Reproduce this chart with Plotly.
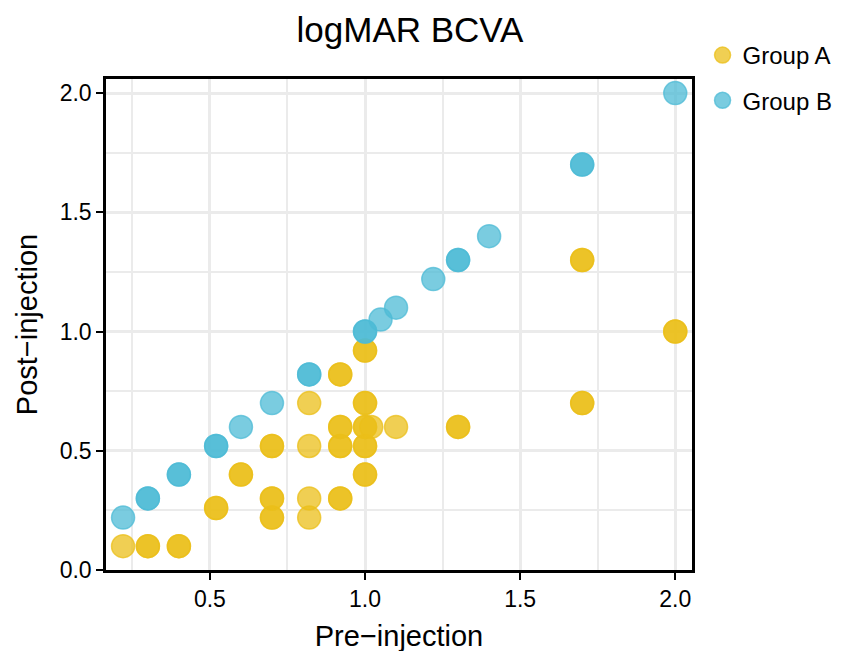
import plotly.graph_objects as go

# Group A (yellow): pre / post injection logMAR BCVA
a_pre = [0.22, 0.30, 0.30, 0.40, 0.40, 0.52, 0.52, 0.60, 0.60,
         0.70, 0.70, 0.70, 0.70, 0.70, 0.70,
         0.82, 0.82, 0.82, 0.82,
         0.92, 0.92, 0.92, 0.92, 0.92, 0.92, 0.92, 0.92,
         1.00, 1.00, 1.00, 1.00, 1.00, 1.00, 1.00, 1.00, 1.00, 1.00,
         1.02, 1.10, 1.30, 1.30, 1.70, 1.70, 1.70, 1.70, 2.00, 2.00]
a_post = [0.10, 0.10, 0.10, 0.10, 0.10, 0.26, 0.26, 0.40, 0.40,
          0.22, 0.22, 0.30, 0.30, 0.52, 0.52,
          0.22, 0.30, 0.52, 0.70,
          0.30, 0.30, 0.52, 0.52, 0.60, 0.60, 0.82, 0.82,
          0.40, 0.40, 0.52, 0.52, 0.60, 0.60, 0.70, 0.70, 0.92, 0.92,
          0.60, 0.60, 0.60, 0.60, 0.70, 0.70, 1.30, 1.30, 1.00, 1.00]

# Group B (blue)
b_pre = [0.22, 0.30, 0.30, 0.40, 0.40, 0.52, 0.52, 0.60, 0.70,
         0.82, 0.82, 1.00, 1.00, 1.05, 1.10, 1.22, 1.30, 1.30,
         1.40, 1.70, 1.70, 2.00]
b_post = [0.22, 0.30, 0.30, 0.40, 0.40, 0.52, 0.52, 0.60, 0.70,
          0.82, 0.82, 1.00, 1.00, 1.05, 1.10, 1.22, 1.30, 1.30,
          1.40, 1.70, 1.70, 2.00]

x_ticks = [0.5, 1.0, 1.5, 2.0]
y_ticks = [0.0, 0.5, 1.0, 1.5, 2.0]
x_tick_labels = ["0.5", "1.0", "1.5", "2.0"]
y_tick_labels = ["0.0", "0.5", "1.0", "1.5", "2.0"]
minor_vals = [0.25, 0.75, 1.25, 1.75]

col_a = "rgba(235,191,25,0.75)"
col_b = "rgba(77,187,213,0.75)"

fig = go.Figure()
fig.add_trace(go.Scatter(
    x=a_pre, y=a_post, mode="markers", name="Group A", legendgroup="A",
    marker=dict(size=23, color=col_a, line=dict(color=col_a, width=1.5)),
))
fig.add_trace(go.Scatter(
    x=b_pre, y=b_post, mode="markers", name="Group B", legendgroup="B",
    marker=dict(size=23, color=col_b, line=dict(color=col_b, width=1.5)),
))

font_family = "Liberation Sans, Arial, sans-serif"

axis_common = dict(
    showgrid=True, gridcolor="#EBEBEB", gridwidth=3,
    showline=True, linecolor="black", linewidth=2.5, mirror=True,
    ticks="outside", ticklen=7, tickwidth=2.2, tickcolor="black",
    tickfont=dict(size=23, color="black", family=font_family),
    zeroline=False, automargin=False,
    minor=dict(showgrid=True, gridcolor="#EBEBEB", gridwidth=1.5, ticks=""),
)

fig.update_xaxes(
    range=[0.165, 2.054], tickvals=x_ticks, ticktext=x_tick_labels,
    minor_tickvals=minor_vals,
    title=dict(text="Pre\u2212injection", font=dict(size=29, color="black", family=font_family), standoff=15),
    **axis_common,
)
fig.update_yaxes(
    range=[0.0, 2.059], tickvals=y_ticks, ticktext=y_tick_labels,
    minor_tickvals=minor_vals,
    title=dict(text="Post\u2212injection", font=dict(size=29, color="black", family=font_family), standoff=14),
    **axis_common,
)

fig.update_layout(
    width=842, height=651,
    margin=dict(l=98, r=148, t=71, b=89),
    plot_bgcolor="white", paper_bgcolor="white",
    title=dict(text="logMAR BCVA", x=402 / 842, xanchor="center",
               y=1 - 22 / 651, yanchor="middle",
               font=dict(size=35, color="black", family=font_family)),
    legend=dict(x=1.018, y=1.0937, xanchor="left", yanchor="top",
                font=dict(size=24, color="black", family=font_family),
                tracegroupgap=11, itemsizing="trace", bgcolor="rgba(0,0,0,0)"),
    showlegend=True,
)

fig.write_html("out.html")
